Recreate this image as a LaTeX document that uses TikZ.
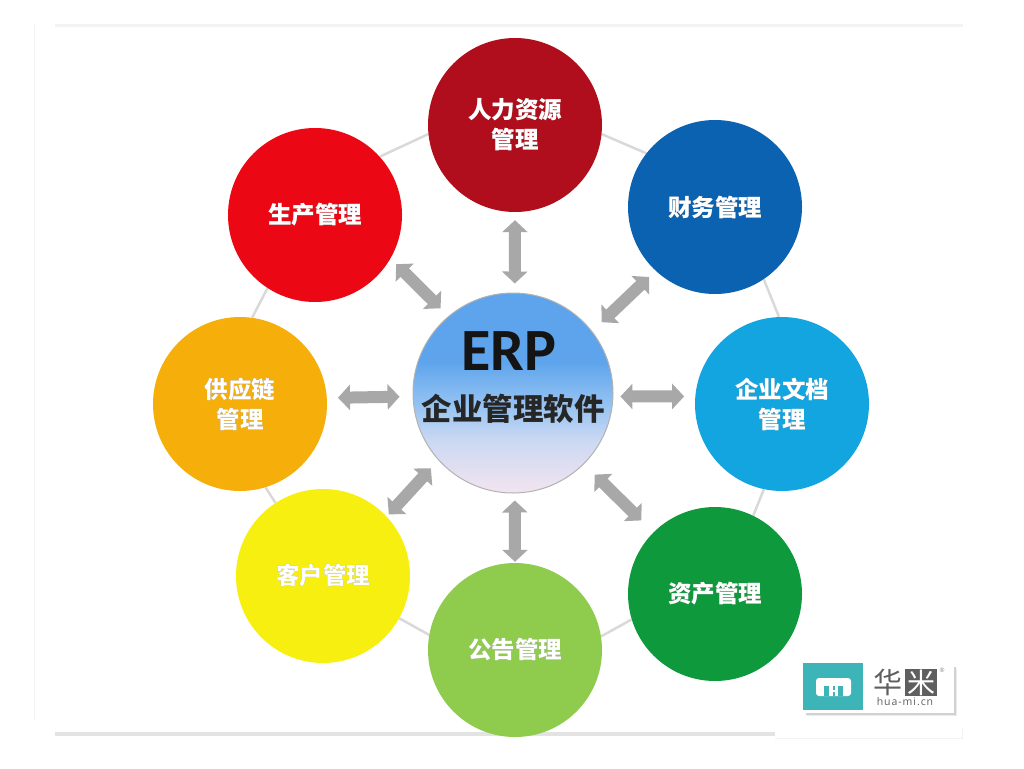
\documentclass[tikz,border=0pt]{standalone}
\usepackage{fontspec}
\usepackage[outline]{contour}
\usetikzlibrary{backgrounds,arrows.meta}
\newfontfamily\cjkfont{Noto Sans CJK SC}
\newfontfamily\latinbold{Carlito}
\newfontfamily\logofont[LetterSpace=9]{Open Sans}
\contourlength{0.5pt}
\newcommand{\glow}[1]{\contour{black!45}{#1}}
\definecolor{erpA}{HTML}{F4E4F0}
\definecolor{erpB}{HTML}{CBD9F2}
\definecolor{erpC}{HTML}{90C0F2}
\definecolor{erpD}{HTML}{5DA4EC}
\pgfdeclareverticalshading{erpshade}{100bp}{
  color(0bp)=(erpA); color(25bp)=(erpA); color(38bp)=(erpB); color(48bp)=(erpC); color(58bp)=(erpD); color(100bp)=(erpD)}
\definecolor{ringgrey}{HTML}{D9D9D9}
\definecolor{arrowgrey}{HTML}{A8A8A8}
\definecolor{framegrey}{HTML}{F3F3F3}
\definecolor{logoteal}{HTML}{3DB4B8}
\definecolor{logogrey}{HTML}{5F5F5F}
\tikzset{
  disc/.style={circle,minimum size=174pt,inner sep=0pt,align=center,text=white,
    font=\cjkfont\bfseries\fontsize{23.5}{30}\selectfont},
  hub/.style={circle,minimum size=200pt,inner sep=0pt,draw=black!30,line width=1pt,shading=erpshade},
  ring/.style={draw=ringgrey,line width=2.5pt},
  link/.style={draw=arrowgrey,line width=12pt,{Triangle[width=25pt,length=12pt]}-{Triangle[width=25pt,length=12pt]}},
  frameline/.style={draw=framegrey,line width=3pt}
}
\begin{document}
\begin{tikzpicture}[x=1pt,y=-1pt]
\useasboundingbox (0,0) rectangle (1024,768);
% page frame
\coordinate (ftl) at (55,26); \coordinate (ftr) at (963,26);
\coordinate (fl1) at (34,24); \coordinate (fl2) at (34,720);
\coordinate (fb1) at (55,734); \coordinate (fb2) at (775,734); \coordinate (fb3) at (962,738);
\coordinate (fr1) at (962,728);
\draw[frameline] (ftl) -- (ftr);
\draw[draw=framegrey,line width=1pt] (fl1) -- (fl2);
\draw[draw=black!11,line width=4pt] (fb1) -- (fb2);
\draw[draw=framegrey,line width=1pt] (fb2 |- fb3) -- (fb3) -- (fr1);
% discs
\node[disc,fill={rgb,255:red,176;green,14;blue,28}] (hr) at (515,125) {\glow{人力资源}\\\glow{管理}};
\node[disc,fill={rgb,255:red,10;green,98;blue,176}] (fin) at (715,207) {\glow{财务管理}};
\node[disc,fill={rgb,255:red,18;green,165;blue,224}] (doc) at (782,404) {\glow{企业文档}\\\glow{管理}};
\node[disc,fill={rgb,255:red,14;green,154;blue,60}] (ast) at (715,594) {\glow{资产管理}};
\node[disc,fill={rgb,255:red,143;green,203;blue,76}] (ntc) at (515,650) {\glow{公告管理}};
\node[disc,fill={rgb,255:red,247;green,239;blue,16}] (cus) at (323,576) {\glow{客户管理}};
\node[disc,fill={rgb,255:red,245;green,174;blue,10}] (sup) at (240,404) {\glow{供应链}\\\glow{管理}};
\node[disc,fill={rgb,255:red,235;green,8;blue,20}] (prd) at (315,215) {\glow{生产管理}};
% hub
\node[hub] (erp) at (513,393) {};
\node[inner sep=0pt,text=black!92] (erpt) at (509,351) {\latinbold\bfseries\fontsize{60}{60}\selectfont ERP};
\node[inner sep=0pt,text=black!85] (erpc) at (513,409) {\cjkfont\bfseries\fontsize{30.5}{36}\selectfont 企业管理软件};
% outer ring
\begin{scope}[on background layer]
\draw[ring] (hr.-6.5) -- (fin.142);
\draw[ring] (fin.-56.7) -- (doc.92.7);
\draw[ring] (doc.258.8) -- (ast.64.9);
\draw[ring] (ast.197) -- (ntc.9.7);
\draw[ring] (ntc.170.2) -- (cus.-29.7);
\draw[ring] (cus.123.3) -- (sup.-73.4);
\draw[ring] (sup.82) -- (prd.237.3);
\draw[ring] (prd.42.7) -- (hr.186.5);
\end{scope}
% arrows
\draw[link,shorten <=9pt,shorten >=8pt] (erp.89) -- (hr.270);
\draw[link,shorten <=13pt,shorten >=9pt] (erp.38) -- (fin.227.5);
\draw[link,shorten <=7pt,shorten >=11pt] (erp.-2) -- (doc.175.4);
\draw[link,shorten <=15pt,shorten >=17pt] (erp.-45) -- (ast.135);
\draw[link,shorten <=7pt,shorten >=1pt] (erp.-89) -- (ntc.90);
\draw[link,shorten <=11pt,shorten >=3pt] (erp.222.4) -- (cus.43.6);
\draw[link,shorten <=13pt,shorten >=11pt] (erp.182) -- (sup.4.6);
\draw[link,shorten <=11pt,shorten >=8pt] (erp.130.3) -- (prd.-30.6);
% logo
\fill[black!8] (807,669) rectangle (957,716);
\fill[black!18] (806,667) rectangle (955.5,714.5);
\fill[white] (800,659) rectangle (954,713);
\fill[logoteal] (803,663) rectangle (863,709.5);
\fill[white,rounded corners=3pt] (816,696) -- (816,678) -- (851,678) -- (851,696) -- cycle;
\fill[logoteal] (824,686) rectangle (829,696);
\fill[logoteal] (838,686) rectangle (843,696);
\fill[logoteal] (832.5,686) rectangle (834.5,689.5);
\fill[logoteal] (832.5,692) rectangle (834.5,696);
\fill[logogrey] (905,669) rectangle (937,696);
\node[inner sep=0pt,text=logogrey] (logoa) at (888,682) {\cjkfont\fontsize{29}{29}\selectfont 华};
\node[inner sep=0pt,text=white] (logob) at (921,683) {\cjkfont\fontsize{28}{28}\selectfont 米};
\node[inner sep=0pt,text=logogrey] (logoc) at (905,701.5) {\logofont\fontsize{10.5}{11}\selectfont hua-mi.cn};
\node[inner sep=0pt,text=black!45] (logod) at (942,670) {\logofont\fontsize{6}{6}\selectfont ®};
\end{tikzpicture}
\end{document}
